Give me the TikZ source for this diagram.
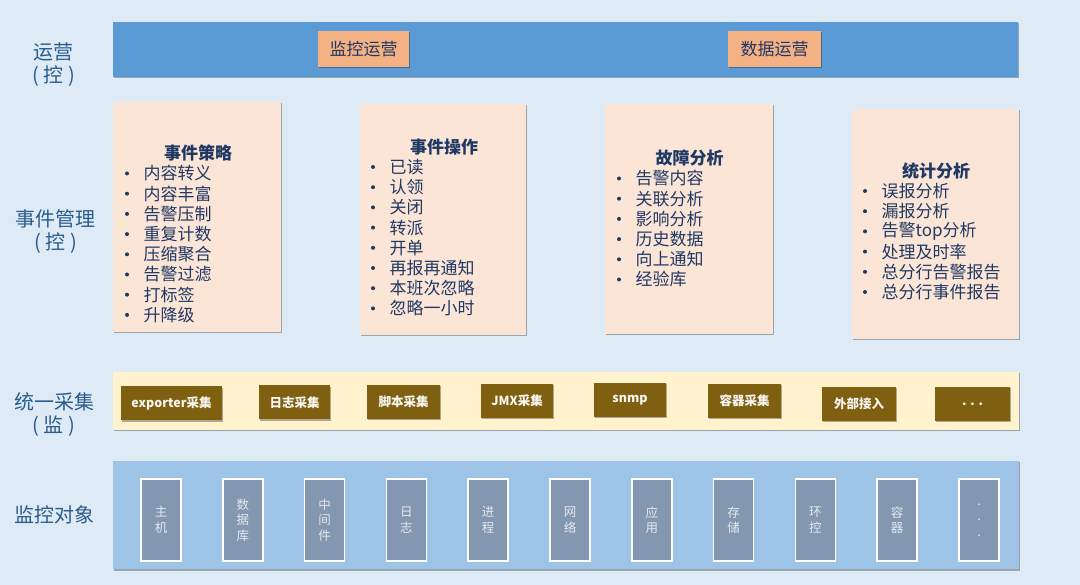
\documentclass[tikz,border=0pt]{standalone}
\usepackage{fontspec}
\setmainfont{Noto Sans CJK SC}
\usetikzlibrary{shadows}
\definecolor{bgc}{HTML}{DEEBF7}
\definecolor{opsbar}{HTML}{5B9BD5}
\definecolor{orangebox}{HTML}{F4B183}
\definecolor{peach}{HTML}{FBE5D6}
\definecolor{navy}{HTML}{203864}
\definecolor{labelc}{HTML}{2A5C8C}
\definecolor{cream}{HTML}{FFF2CC}
\definecolor{brownbox}{HTML}{7F5F10}
\definecolor{monbar}{HTML}{9DC3E6}
\definecolor{grayblue}{HTML}{8497B0}
\definecolor{lighttxt}{HTML}{E4E8EE}
\newcommand\evitems[4]{%
  \foreach \t [count=\i] in {#4} {
    \fill[navy] ({#2},{#3+20.2*(\i-1)}) circle (2);
    \node[evitem] (#1-\i) at ({#2+16.5},{#3+20.2*(\i-1)}) {\t};
  }%
}
\begin{document}
\begin{tikzpicture}[x=1pt,y=-1pt,
 shd/.style={drop shadow={shadow xshift=1.2pt,shadow yshift=-1.5pt,opacity=0.3,fill=black}},
 panel/.style={rectangle,inner sep=0,shd},
 layerlabel/.style={text=labelc,font=\fontsize{20}{23}\selectfont,align=center,inner sep=0},
 opsbox/.style={panel,fill=orangebox,text=navy,font=\fontsize{17}{20}\selectfont,minimum height=36},
 evbox/.style={panel,fill=peach,minimum width=168,minimum height=230},
 evtitle/.style={text=navy,font=\fontsize{17}{20}\selectfont\bfseries,inner sep=0},
 evitem/.style={text=navy,font=\fontsize{17}{20}\selectfont,inner sep=0,anchor=west},
 collbox/.style={panel,fill=brownbox,text=white!95!brownbox,font=\fontsize{12.5}{14}\selectfont\bfseries,minimum height=34},
 objbox/.style={rectangle,fill=grayblue,draw=white,line width=1.6pt,minimum width=40,minimum height=82,text=lighttxt,font=\fontsize{12.5}{15.5}\selectfont,align=center,inner sep=0},
]
\useasboundingbox (0,0) rectangle (1080,585);
\fill[bgc] (0,0) rectangle (1080,585);

% layer labels
\node[layerlabel] (l1) at (54,64.5) {运营\\( 控 )};
\node[layerlabel] (l2) at (56,231.5) {事件管理\\( 控 )};
\node[layerlabel] (l3) at (54,415) {统一采集\\( 监 )};
\node[layerlabel] (l4) at (54,515) {监控对象};

% operations layer
\node[panel,fill=opsbar,minimum width=905,minimum height=55] (ops) at (565.5,49.5) {};
\node[opsbox,minimum width=91] (mon) at (363.5,49) {监控运营};
\node[opsbox,minimum width=93] (data) at (774.5,49) {数据运营};

% event management layer
\node[evbox] (e1) at (197,217) {};
\node[evbox,minimum width=166,minimum height=231] (e2) at (443,219.5) {};
\node[evbox] (e3) at (689,219) {};
\node[evbox,minimum width=167] (e4) at (935.5,224) {};

\node[evtitle] (e1t) at (198,153) {事件策略};
\node[evtitle] (e2t) at (444,147) {事件操作};
\node[evtitle] (e3t) at (689.5,158) {故障分析};
\node[evtitle] (e4t) at (936,171) {统计分析};

\evitems{e1i}{127}{173.5}{内容转义,内容丰富,告警压制,重复计数,压缩聚合,告警过滤,打标签,升降级}
\evitems{e2i}{373}{167}{已读,认领,关闭,转派,开单,再报再通知,本班次忽略,忽略一小时}
\evitems{e3i}{619}{178.5}{告警内容,关联分析,影响分析,历史数据,向上通知,经验库}
\evitems{e4i}{865}{191}{误报分析,漏报分析,告警top分析,处理及时率,总分行告警报告,总分行事件报告}

% collection layer
\node[panel,fill=cream,minimum width=906,minimum height=58] (coll) at (566,401) {};
\node[collbox,minimum width=101] (c1) at (171.5,403.5) {exporter采集};
\node[collbox,minimum width=71] (c2) at (294.5,402.5) {日志采集};
\node[collbox,minimum width=73] (c3) at (403.5,402) {脚本采集};
\node[collbox,minimum width=72] (c4) at (517,401) {JMX采集};
\node[collbox,minimum width=72] (c5) at (630,400) {snmp};
\node[collbox,minimum width=73] (c6) at (744.5,401) {容器采集};
\node[collbox,minimum width=74] (c7) at (859,404) {外部接入};
\node[collbox,minimum width=75] (c8) at (972.5,404) {. . .};

% monitored objects layer
\node[panel,fill=monbar,minimum width=906,minimum height=108] (objs) at (566,515) {};
\foreach \t [count=\i] in {{主\\机},{数\\据\\库},{中\\间\\件},{日\\志},{进\\程},{网\\络},{应\\用},{存\\储},{环\\控},{容\\器},{.\\.\\.}} {
  \node[objbox] (o\i) at ({161+81.8*(\i-1)},520) {\t};
}
\end{tikzpicture}
\end{document}
